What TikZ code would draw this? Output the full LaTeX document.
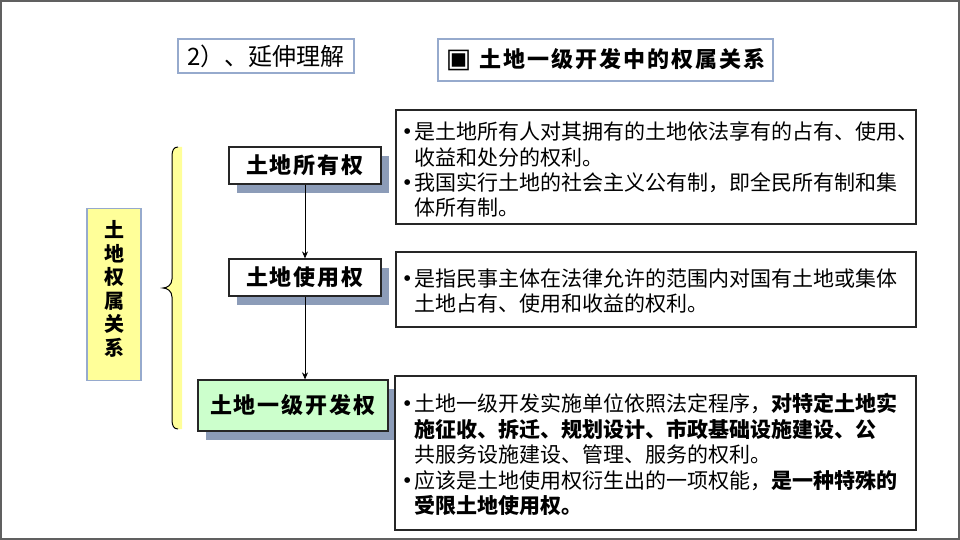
\documentclass[tikz,border=0pt]{standalone}
\usepackage{fontspec}
\setmainfont{Liberation Serif}
\newfontfamily\cjk{Noto Sans CJK SC}
\newfontfamily\symf{DejaVu Sans}
\usetikzlibrary{arrows.meta,shadows}
\newcommand{\gp}{\hspace{2pt}}
\definecolor{shadowc}{HTML}{8C9CB8}
\definecolor{titleb}{HTML}{96AACD}
\definecolor{yell}{HTML}{FFFF99}
\definecolor{grn}{HTML}{CCFFCC}
\definecolor{framec}{HTML}{606060}
\begin{document}
\begin{tikzpicture}[x=1pt,y=-1pt,
  titlebox/.style={draw=titleb, line width=1.2pt, fill=white, inner sep=0},
  descbox/.style={draw=black!85, line width=1.2pt, fill=white, inner sep=0},
  keybox/.style={draw=black!85, line width=1.2pt, inner sep=0,
    font=\cjk\bfseries\fontsize{22}{26}\selectfont,
    drop shadow={fill=shadowc, opacity=1, shadow xshift=8pt, shadow yshift=-9pt}},
  txt/.style={anchor=base west, inner sep=0, font=\cjk\fontsize{21}{25}\selectfont},
  bul/.style={anchor=base west, inner sep=0, font=\fontsize{24}{25}\selectfont},
  arr/.style={-{Stealth[length=7pt,width=6pt]}, line width=0.8pt}]
\useasboundingbox (0,0) rectangle (960,540);
\fill[white] (0,0) rectangle (960,540);
\draw[framec, line width=2pt] (1,1) rectangle (959,539);

% titles
\node[titlebox, minimum width=176pt, minimum height=34pt, font=\cjk\fontsize{24}{28}\selectfont] (t1) at (266,56) {2）、延伸理解};
\node[titlebox, minimum width=335pt, minimum height=42pt, font=\cjk\bfseries\fontsize{22}{26}\selectfont] (t2) at (605.5,60)
  {{\symf\fontsize{27}{28}\selectfont ▣}\hspace{8pt}土\gp 地\gp 一\gp 级\gp 开\gp 发\gp 中\gp 的\gp 权\gp 属\gp 关\gp 系};

% left box
\node[draw=titleb, line width=1.2pt, fill=yell, minimum width=54pt, minimum height=172pt, inner sep=0] (lb) at (114,294.5) {};
\node[align=center, inner sep=0, font=\cjk\bfseries\fontsize{20}{23.6}\selectfont] (lbt) at (114,289) {土\\地\\权\\属\\关\\系};

% brace
\fill[yell] (178,147) .. controls (174,147) and (172,150) .. (172,156) -- (172,279)
  .. controls (172,285) and (167,288) .. (163,288)
  .. controls (167,288) and (172,291) .. (172,297) -- (172,420)
  .. controls (172,426) and (174,429) .. (178,429) -- (182,429) -- (182,147) -- cycle;
\draw[line width=1pt] (178,147) .. controls (174,147) and (172,150) .. (172,156) -- (172,279)
  .. controls (172,285) and (167,288) .. (163,288)
  .. controls (167,288) and (172,291) .. (172,297) -- (172,420)
  .. controls (172,426) and (174,429) .. (178,429);

% key boxes
\node[keybox, fill=white, minimum width=152pt, minimum height=37pt] (k1) at (305,165.5) {土\gp 地\gp 所\gp 有\gp 权};
\node[keybox, fill=white, minimum width=152pt, minimum height=37pt] (k2) at (305,277.5) {土\gp 地\gp 使\gp 用\gp 权};
\node[keybox, fill=grn, minimum width=190pt, minimum height=51pt] (k3) at (293,405.5) {土\gp 地\gp 一\gp 级\gp 开\gp 发\gp 权};

\draw[arr] (k1.south) -- (k2.north);
\draw[arr] (k2.south) -- (k2.south |- k3.north);

% description boxes
\node[descbox, minimum width=520pt, minimum height=114pt] (d1) at (656,167) {};
\node[descbox, minimum width=520pt, minimum height=75pt] (d2) at (656,289.5) {};
\node[descbox, minimum width=521pt, minimum height=154pt] (d3) at (655.5,453) {};

\node[bul] (b11) at (403,140) {•};
\node[txt] (d1l1) at (414,140) {是土地所有人对其拥有的土地依法享有的占有、使用、};
\node[txt] (d1l2) at (414,165) {收益和处分的权利。};
\node[bul] (b12) at (403,190) {•};
\node[txt] (d1l3) at (414,190) {我国实行土地的社会主义公有制，即全民所有制和集};
\node[txt] (d1l4) at (414,215) {体所有制。};

\node[bul] (b21) at (403,286) {•};
\node[txt] (d2l1) at (414,286) {是指民事主体在法律允许的范围内对国有土地或集体};
\node[txt] (d2l2) at (414,311) {土地占有、使用和收益的权利。};

\node[bul] (b31) at (403,411) {•};
\node[txt] (d3l1) at (414,411) {土地一级开发实施单位依照法定程序，{\bfseries 对特定土地实}};
\node[txt] (d3l2) at (414,437) {\bfseries 施征收、拆迁、规划设计、市政基础设施建设、公};
\node[txt] (d3l3) at (414,462) {共服务设施建设、管理、服务的权利。};
\node[bul] (b32) at (403,488) {•};
\node[txt] (d3l4) at (414,488) {应该是土地使用权衍生出的一项权能，{\bfseries 是一种特殊的}};
\node[txt] (d3l5) at (414,513) {\bfseries 受限土地使用权。};
\end{tikzpicture}
\end{document}
